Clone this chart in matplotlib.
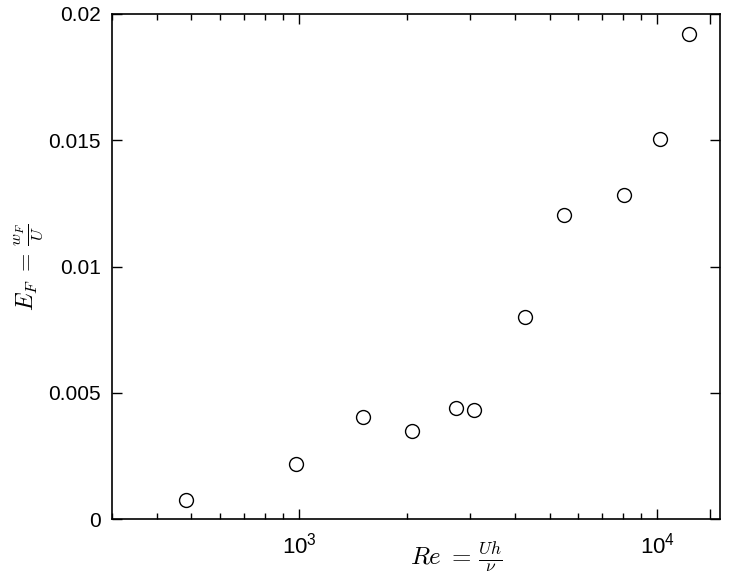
import matplotlib
matplotlib.use("Agg")
import matplotlib.pyplot as plt
from matplotlib.ticker import LogLocator, NullFormatter

# data
re_vals = [482, 981, 1502, 2061, 2737, 3075, 4273, 5498, 8046, 10150, 12238]
ef_vals = [0.00075, 0.00218, 0.00404, 0.00349, 0.0044, 0.00432,
           0.0080, 0.01204, 0.01283, 0.01505, 0.01921]
y_ticks = [0, 0.005, 0.01, 0.015, 0.02]
y_labels = ["0", "0.005", "0.01", "0.015", "0.02"]

plt.rcParams['font.family'] = ['Liberation Sans', 'DejaVu Sans']
plt.rcParams['mathtext.fontset'] = 'cm'

fig = plt.figure(figsize=(7.34, 5.8), dpi=100)
ax = fig.add_axes([0.1526, 0.105, 0.829, 0.871])

ax.plot(re_vals, ef_vals, 'o', markersize=10, markerfacecolor='white',
        markeredgecolor='black', markeredgewidth=1.0)

ax.set_xscale('log')
ax.set_xlim(300, 15000)
ax.set_ylim(0, 0.02)

# major ticks incl. the odd unlabeled one near the right edge
ax.set_xticks([1e3, 1e4, 1.4e4])
ax.set_xticklabels([r'$\mathregular{10^3}$', r'$\mathregular{10^4}$', ''])
ax.xaxis.set_minor_locator(LogLocator(base=10, subs=range(2, 10)))
ax.xaxis.set_minor_formatter(NullFormatter())

ax.set_yticks(y_ticks)
ax.set_yticklabels(y_labels)

ax.tick_params(which='both', direction='in', top=True, right=True,
               labelsize=15, width=1.0)
ax.tick_params(which='major', length=7, pad=8)
ax.tick_params(which='minor', length=4)
ax.tick_params(axis='x', which='major', labelsize=16, pad=10)
for s in ax.spines.values():
    s.set_linewidth(1.2)

ax.set_xlabel(r'$Re\;=\,\frac{Uh}{\nu}$', fontsize=18)
ax.xaxis.set_label_coords(0.565, -0.043)
ax.set_ylabel(r'$E_F\;=\,\frac{w_F}{U}$', fontsize=17)
ax.yaxis.set_label_coords(-0.108, 0.499)

fig.savefig('out.png', dpi=100)
